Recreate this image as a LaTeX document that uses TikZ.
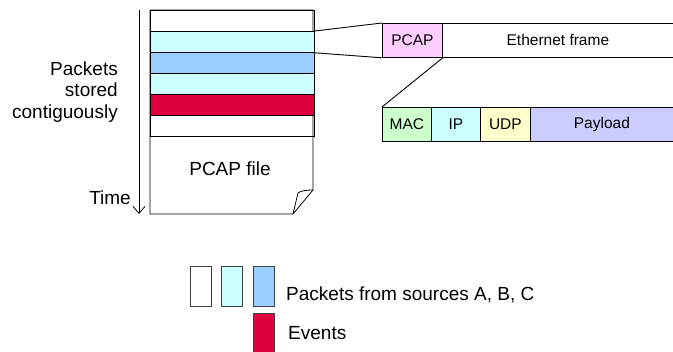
\documentclass[tikz,border=0pt]{standalone}
\usepackage{fontspec}
\setmainfont{Liberation Sans}
\usepackage{xcolor}
\definecolor{srcb}{HTML}{CCFFFF}
\definecolor{srcc}{HTML}{99CCFF}
\definecolor{event}{HTML}{DE003C}
\definecolor{pcapc}{HTML}{FFCCFF}
\definecolor{macc}{HTML}{CCFFCC}
\definecolor{udpc}{HTML}{FFFFCC}
\definecolor{payc}{HTML}{CCCCFF}
\usepackage{tikz}
\usetikzlibrary{arrows.meta,positioning}
\tikzset{
  lbl/.style    ={font=\fontsize{19}{21.5}\selectfont,inner sep=0pt},
  row/.style    ={draw=black,line width=0.8pt,minimum width=164pt,
                  minimum height=21pt,inner sep=0pt,anchor=north west},
  evrow/.style  ={row,fill=event,line width=1.3pt},
  cell/.style   ={draw=black,line width=0.8pt,minimum height=34pt,
                  inner sep=0pt,anchor=north west,font=\fontsize{15.5}{18}\selectfont},
  key/.style    ={draw=black!75,line width=0.8pt,minimum width=21pt,
                  minimum height=40pt,inner sep=0pt,anchor=north west},
  link/.style   ={draw=black,line width=0.9pt},
}
\begin{document}
\begin{tikzpicture}[x=1pt,y=-1pt]
\useasboundingbox (0,0) rectangle (673,352);
% file outline with folded corner
\draw[line width=0.8pt] (150,10) -- (150,214) -- (293,214) -- (313,190) -- (313,10) -- cycle;
\draw[line width=0.8pt] (313,190) .. controls (306,190) and (300,191) .. (298,193) -- (293,214);
\node[lbl] (file) at (230,169) {PCAP file};
% packet rows
\node[row] (r1) at (150,10) {};
\node[row,fill=srcb] (r2) at (150,31) {};
\node[row,fill=srcc] (r3) at (150,52) {};
\node[row,fill=srcb] (r4) at (150,73) {};
\node[evrow] (r5) at (150,94) {};
\node[row] (r6) at (150,115) {};
% time axis
\coordinate (ttop) at (139,10);
\coordinate (tbot) at (139,214);
\draw[line width=0.8pt,-{Straight Barb[length=7pt,width=12pt]}] (ttop) -- (tbot);
\node[lbl,anchor=east] (time) at (131,198) {Time};
\node[lbl,anchor=east,align=right] (stored) at (118,92) {Packets\\stored\\contiguously};
% ethernet frame
\node[cell,fill=pcapc,minimum width=60pt] (pcap) at (382,23) {PCAP};
\node[cell,minimum width=231pt] (eth) at (442,23) {Ethernet frame};
\draw[link] (r2.north east) -- (pcap.north west);
\draw[link] (r2.south east) -- (pcap.south west);
% headers
\node[cell,fill=macc,minimum width=49pt] (mac) at (382,107) {MAC};
\node[cell,fill=srcb,minimum width=49pt] (ip) at (431,107) {IP};
\node[cell,fill=udpc,minimum width=50pt] (udp) at (480,107) {UDP};
\node[cell,fill=payc,minimum width=143pt] (pay) at (530,107) {Payload};
\draw[link] (pcap.south east) -- (mac.north west);
% legend
\node[key] (ka) at (190,266) {};
\node[key,fill=srcb] (kb) at (221,266) {};
\node[key,fill=srcc] (kc) at (253,266) {};
\node[key,fill=event] (ke) at (253,313) {};
\node[lbl,anchor=west] (src) at (286,295) {Packets from sources A, B, C};
\node[lbl,anchor=west] (ev) at (288,333) {Events};
\end{tikzpicture}
\end{document}
